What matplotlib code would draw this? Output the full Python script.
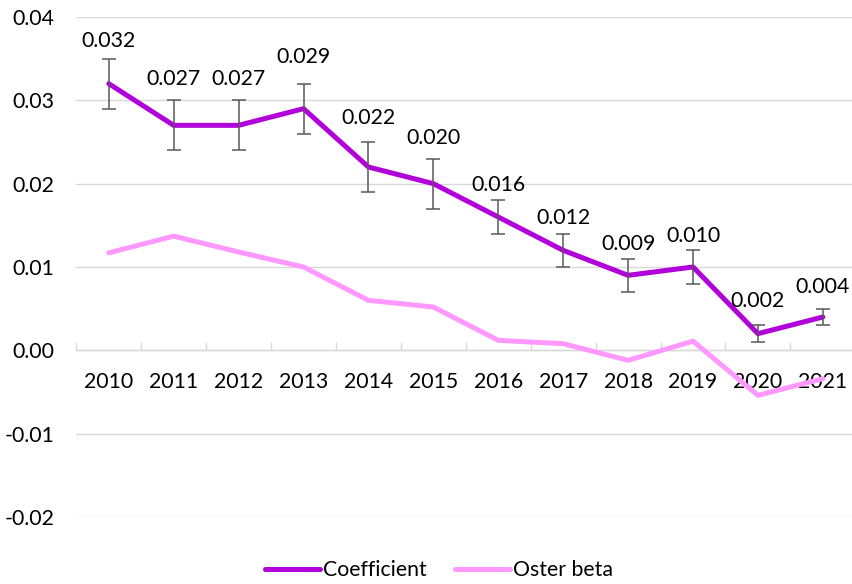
import numpy as np
import matplotlib.pyplot as plt

years = ["2010", "2011", "2012", "2013", "2014", "2015",
         "2016", "2017", "2018", "2019", "2020", "2021"]
coefficient = [0.032, 0.027, 0.027, 0.029, 0.022, 0.020,
               0.016, 0.012, 0.009, 0.010, 0.002, 0.004]
coef_err = [0.003, 0.003, 0.003, 0.003, 0.003, 0.003,
            0.002, 0.002, 0.002, 0.002, 0.001, 0.001]
oster_beta = [0.0117, 0.0137, 0.0118, 0.0100, 0.0060, 0.0052,
              0.0012, 0.0008, -0.0012, 0.0011, -0.0054, -0.0034]

# label offsets above each point (pixels), hand placed like the original
label_offset_px = [43, 46, 46, 52, 49, 46, 32, 32, 31, 31, 33, 30]

plt.rcParams["font.family"] = ["Lato", "DejaVu Sans"]
FS = 15.3
PX = 72 / 100  # pixels -> points at dpi 100

fig = plt.figure(figsize=(8.53, 5.84), dpi=100)
ax = fig.add_axes([76.3 / 853, 1 - 517 / 584, 779 / 853, 500 / 584])

x = np.arange(len(years))
ax.set_xlim(-0.5, len(years) - 0.5)
ax.set_ylim(-0.02, 0.04)

# grid
ax.set_yticks(np.arange(-0.02, 0.0401, 0.01))
ax.set_yticklabels([f"{v:.2f}" for v in np.arange(-0.02, 0.0401, 0.01)])
ax.yaxis.grid(True, color="#D9D9D9", linewidth=1.0, zorder=0)
ax.set_axisbelow(True)
for side in ["left", "right", "top"]:
    ax.spines[side].set_visible(False)
ax.spines["bottom"].set_position(("data", 0))
ax.spines["bottom"].set_color("#D9D9D9")
ax.spines["bottom"].set_linewidth(1.0)

ax.set_xticks(x)
ax.set_xticklabels(years)
ax.set_xticks(np.arange(-0.5, len(years), 1.0), minor=True)
ax.tick_params(axis="x", which="major", length=0, pad=15.5, labelsize=FS)
ax.tick_params(axis="x", which="minor", direction="in", length=6,
               color="#D9D9D9", width=1.0)
ax.tick_params(axis="y", length=0, pad=16, labelsize=FS)

ax.plot(x, oster_beta, color="#FF99FF", linewidth=3.6,
        solid_capstyle="round", zorder=3, label="Oster beta")
ax.plot(x, coefficient, color="#B200DA", linewidth=3.6,
        solid_capstyle="round", zorder=4, label="Coefficient")
ax.errorbar(x, coefficient, yerr=coef_err, fmt="none", ecolor="#595959",
            elinewidth=1.1, capsize=4.8, capthick=1.1, zorder=5)

for xi, v, off in zip(x, coefficient, label_offset_px):
    ax.annotate(f"{v:.3f}", (xi, v), xytext=(0, off * PX),
                textcoords="offset points", ha="center", va="center",
                fontsize=FS, color="#000000", zorder=6)

handles, labels = ax.get_legend_handles_labels()
fig.legend(handles[::-1], labels[::-1], loc="center",
           bbox_to_anchor=(439 / 853, 1 - 570 / 584), ncol=2,
           frameon=False, fontsize=FS, handlelength=2.6,
           handletextpad=0.15, columnspacing=1.3)

fig.savefig("out.png", dpi=100)
